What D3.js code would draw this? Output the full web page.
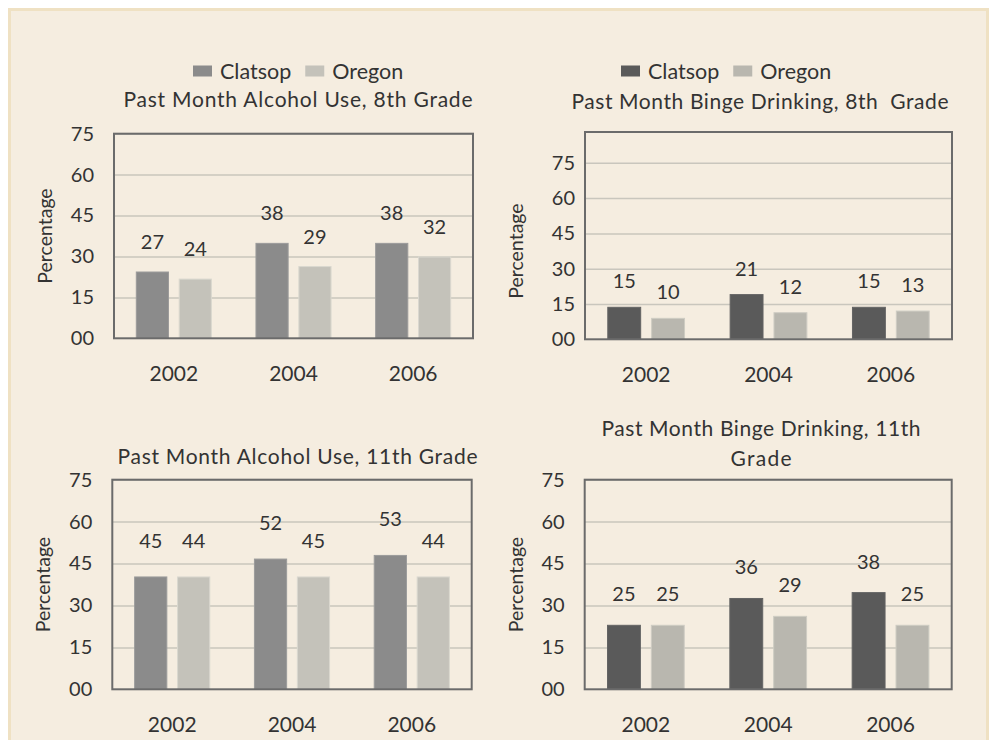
<!DOCTYPE html>
<html>
<head>
<meta charset="utf-8">
<script src="https://cdn.jsdelivr.net/npm/d3@7"></script>
<style>
  body { margin: 0; background: #fff; }
  text { font-family: Lato, "Open Sans", sans-serif; fill: #333; }
</style>
</head>
<body>
<svg id="chart" width="993" height="740"></svg>
<script>
// categories / ticks
var years = ['2002', '2004', '2006'];
var series = ['Clatsop', 'Oregon'];
var yTicks = [0, 15, 30, 45, 60, 75];

// printed value labels
var alc8Clatsop = [27, 38, 38];
var alc8Oregon = [24, 29, 32];
var binge8Clatsop = [15, 21, 15];
var binge8Oregon = [10, 12, 13];
var alc11Clatsop = [45, 52, 53];
var alc11Oregon = [44, 45, 44];
var binge11Clatsop = [25, 36, 38];
var binge11Oregon = [25, 29, 25];

// bar heights as drawn in the picture
var alc8ClatsopBar = [24.3, 34.8, 34.8];
var alc8OregonBar = [21.7, 26.3, 29.8];
var binge8ClatsopBar = [13.6, 19.0, 13.6];
var binge8OregonBar = [8.9, 11.3, 12.0];
var alc11ClatsopBar = [40.2, 46.6, 47.9];
var alc11OregonBar = [40.2, 40.2, 40.2];
var binge11ClatsopBar = [22.9, 32.5, 34.6];
var binge11OregonBar = [22.9, 26.1, 22.9];

var svg = d3.select('#chart');

// beige panel
svg.append('rect')
    .attr('x', 9.5).attr('y', 9.5)
    .attr('width', 978).attr('height', 740)
    .attr('fill', '#f5ede0')
    .attr('stroke', '#efe1c3')
    .attr('stroke-width', 3);

function makeRows(lab1, lab2, bar1, bar2) {
    return years.map(function (y, i) {
        return {
            year: y,
            values: [
                {name: series[0], label: lab1[i], bar: bar1[i]},
                {name: series[1], label: lab2[i], bar: bar2[i]}
            ]
        };
    });
}

var charts = [
    {
        rows: makeRows(alc8Clatsop, alc8Oregon, alc8ClatsopBar, alc8OregonBar),
        left: 114, right: 473, top: 133.7, bottom: 338.3, yMax: 75,
        title: ['Past Month Alcohol Use, 8th Grade'], titleW: [349], titleX: 298, titleY: [100],
        legendX: 193, legendY: 71, labelOffset: 30, tickGap: 20,
        colors: ['#8b8b8b', '#c4c2ba']
    },
    {
        rows: makeRows(binge8Clatsop, binge8Oregon, binge8ClatsopBar, binge8OregonBar),
        left: 585, right: 952, top: 132, bottom: 339.3, yMax: 88.1,
        title: ['Past Month Binge Drinking, 8th  Grade'], titleW: [377], titleX: 760, titleY: [101.5],
        legendX: 621, legendY: 71, labelOffset: 26, tickGap: 10,
        colors: ['#5a5a5a', '#b9b7af']
    },
    {
        rows: makeRows(alc11Clatsop, alc11Oregon, alc11ClatsopBar, alc11OregonBar),
        left: 112.3, right: 471.7, top: 479.7, bottom: 689.3, yMax: 75,
        title: ['Past Month Alcohol Use, 11th Grade'], titleW: [360], titleX: 297.5, titleY: [456.5],
        legendX: null, labelOffset: 36, tickGap: 20,
        colors: ['#8b8b8b', '#c4c2ba']
    },
    {
        rows: makeRows(binge11Clatsop, binge11Oregon, binge11ClatsopBar, binge11OregonBar),
        left: 584.7, right: 951.7, top: 479.7, bottom: 689.3, yMax: 75,
        title: ['Past Month Binge Drinking, 11th', 'Grade'], titleW: [319, 61], titleX: 761, titleY: [428.5, 459],
        legendX: null, labelOffset: 31, tickGap: 20,
        colors: ['#5a5a5a', '#b9b7af']
    }
];

charts.forEach(function (c) {
    var w = c.right - c.left;
    var g = svg.append('g');

    var x0 = d3.scaleBand().domain(years).range([c.left, c.right]);
    var x1 = d3.scaleBand().domain(series).range([0, x0.bandwidth()])
        .paddingInner(0.25).paddingOuter(0.52);
    var y = d3.scaleLinear().domain([0, c.yMax]).range([c.bottom, c.top]);
    var color = d3.scaleOrdinal().domain(series).range(c.colors);

    // gridlines
    g.append('g')
        .attr('transform', 'translate(' + c.left + ',0)')
        .call(d3.axisLeft(y).tickValues(yTicks.slice(1)).tickSize(-w).tickFormat(''))
        .call(function (a) { a.select('.domain').remove(); })
        .selectAll('line')
        .attr('stroke', '#c9c6bd')
        .attr('stroke-width', 1.5);

    // bars
    var grp = g.selectAll('.grp')
        .data(c.rows)
        .join('g')
        .attr('transform', function (d) { return 'translate(' + x0(d.year) + ',0)'; });

    grp.selectAll('rect')
        .data(function (d) { return d.values; })
        .join('rect')
        .attr('x', function (d) { return x1(d.name); })
        .attr('y', function (d) { return y(d.bar); })
        .attr('width', x1.bandwidth())
        .attr('height', function (d) { return y(0) - y(d.bar); })
        .attr('fill', function (d) { return color(d.name); })
        .attr('stroke', function (d) { return d3.color(color(d.name)).brighter(0.3); })
        .attr('stroke-width', 1);

    grp.selectAll('text')
        .data(function (d) { return d.values; })
        .join('text')
        .attr('x', function (d) { return x1(d.name) + x1.bandwidth() / 2; })
        .attr('y', function (d) { return y(d.bar) - c.labelOffset; })
        .attr('dy', '0.35em')
        .attr('text-anchor', 'middle')
        .style('font-size', '20px')
        .text(function (d) { return d.label; });

    // frame
    g.append('rect')
        .attr('x', c.left).attr('y', c.top)
        .attr('width', w).attr('height', c.bottom - c.top)
        .attr('fill', 'none')
        .attr('stroke', '#6b6b6b')
        .attr('stroke-width', 2);

    // y axis labels
    g.append('g')
        .attr('transform', 'translate(' + c.left + ',0)')
        .call(d3.axisLeft(y).tickValues(yTicks).tickSize(0).tickPadding(c.tickGap).tickFormat(d3.format('02d')))
        .call(function (a) { a.select('.domain').remove(); })
        .selectAll('text')
        .style('font-size', '20px')
        .style('font-family', 'Lato, sans-serif')
        .attr('fill', '#333');

    // x axis years
    g.append('g')
        .attr('transform', 'translate(0,' + c.bottom + ')')
        .call(d3.axisBottom(x0).tickSize(0))
        .call(function (a) { a.select('.domain').remove(); })
        .selectAll('text')
        .attr('y', 35)
        .attr('dy', '0.35em')
        .style('font-size', '21px')
        .style('font-family', 'Lato, sans-serif')
        .attr('fill', '#333');

    // y title
    g.append('text')
        .attr('transform', 'translate(' + (c.left - 69) + ',' + ((y(0) + y(75)) / 2) + ') rotate(-90)')
        .attr('text-anchor', 'middle')
        .attr('dy', '0.35em')
        .style('font-size', '19.5px')
        .text('Percentage');

    // chart title
    c.title.forEach(function (t, i) {
        g.append('text')
            .attr('x', c.titleX)
            .attr('y', c.titleY[i])
            .attr('dy', '0.35em')
            .attr('text-anchor', 'middle')
            .attr('textLength', c.titleW[i])
            .attr('lengthAdjust', 'spacing')
            .style('font-size', '21px')
            .style('white-space', 'pre')
            .text(t);
    });

    // legend
    if (c.legendX !== null) {
        var lx = c.legendX;
        series.forEach(function (s) {
            g.append('rect')
                .attr('x', lx).attr('y', c.legendY - 5.5)
                .attr('width', 19).attr('height', 11)
                .attr('fill', color(s));
            var t = g.append('text')
                .attr('x', lx + 27)
                .attr('y', c.legendY)
                .attr('dy', '0.35em')
                .style('font-size', '21.5px')
                .text(s);
            lx += 27 + t.node().getComputedTextLength() + 14;
        });
    }
});
</script>
</body>
</html>
